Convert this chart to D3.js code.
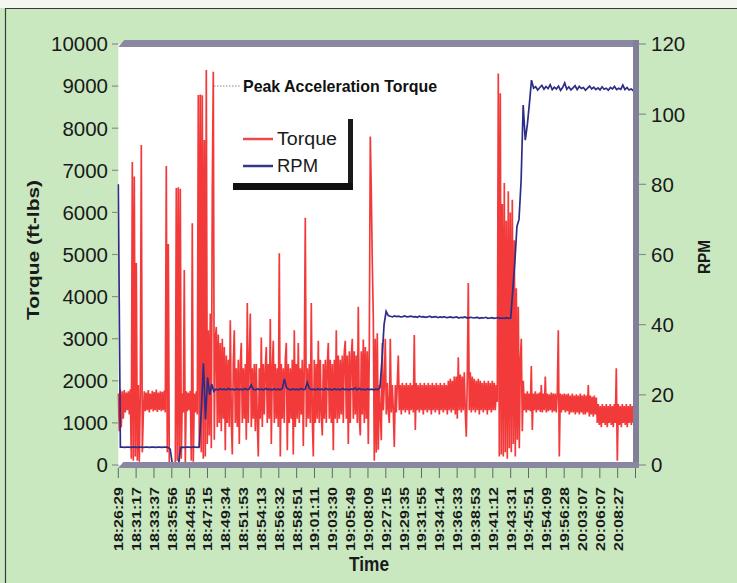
<!DOCTYPE html>
<html><head><meta charset="utf-8">
<script src="https://cdn.jsdelivr.net/npm/d3@7/dist/d3.min.js"></script>
<style>
html,body{margin:0;padding:0;background:#fff;}
svg{display:block;font-family:"Liberation Sans",Arial,Helvetica,sans-serif;}
</style></head><body>
<svg id="c" width="737" height="583"></svg>
<script>
// ---------------- DATA ----------------
const timeLabels = ["18:26:29","18:31:17","18:33:37","18:35:56","18:44:55","18:47:15","18:49:34","18:51:53","18:54:13","18:56:32","18:58:51","19:01:11","19:03:30","19:05:49","19:08:09","19:27:15","19:29:35","19:31:55","19:34:14","19:36:33","19:38:53","19:41:12","19:43:31","19:45:51","19:54:09","19:56:28","20:03:07","20:06:07","20:08:27"];
const torqueTicks = [0,1000,2000,3000,4000,5000,6000,7000,8000,9000,10000];
const rpmTicks = [0,20,40,60,80,100,120];
const seriesNames = ["Torque","RPM"];
const annotationText = "Peak Acceleration Torque";

// Torque (ft-lbs), evenly spaced samples over the whole time axis
const torque = [
 1700,800,1800,900,1750,1100,1780,1250,1720,1300,1750,1200,
 1800,150,7200,100,6850,200,4800,100,1900,80,1700,7600,300,
 1200,1750,1280,1720,1300,1780,1250,1700,1320,1760,1270,1730,1300,1790,1260,1720,1310,1750,1280,1740,1300,1770,1250,
 7100,300,5250,60,20,0,30,0,20,50,6580,100,6600,80,6560,150,
 1700,1250,4630,50,1750,1280,1720,1300,1760,100,5740,80,1700,1250,1750,
 1200,8790,400,8800,300,8780,150,7720,200,9380,500,3200,700,3600,400,6530,9340,600,3000,
 3280,900,3100,1000,2900,800,3000,1100,2800,350,
 2600,1000,2500,900,3440,1100,250,2400,3200,1000,
 2300,900,2500,500,2400,2900,1000,2300,1100,2400,
 600,3850,1000,2500,3600,900,2300,1100,2400,800,
 2400,1000,200,2300,1100,3030,900,2400,1200,2300,
 2800,1000,2400,1100,3470,500,2300,2950,1000,2400,
 1100,2300,900,5030,200,2400,1100,2300,1000,2500,
 2900,350,2400,1000,2300,1100,2500,250,3200,900,
 2400,1100,2900,1000,2300,1200,2500,450,2400,5870,
 900,2300,1100,2400,1000,3850,1100,200,2500,1000,
 2400,1100,2950,1000,2500,1200,700,2400,1100,2500,
 1000,2400,2900,1100,2500,1000,2400,350,2500,1100,
 3200,1000,2600,1100,2500,1200,2600,1000,2700,2950,
 1100,2600,500,2700,1000,2600,3000,1100,2700,1200,
 2600,1000,3760,1100,700,2700,1200,2980,1000,2800,
 1100,2700,500,2800,
 7800,6500,4800,3500,100,
 3000,300,3130,360,1900,1200,590,2900,1300,1900,
 3000,1200,1950,1300,1000,3000,1250,1900,1300,430,
 1900,1250,1950,2600,1300,1900,1200,1950,1300,1900,
 1250,1950,1300,1900,1200,1950,1300,1900,1250,3090,
 830,1950,1300,1900,1250,1950,1300,1900,1200,1950,
 1300,1900,1250,1950,1300,1900,1200,1950,1300,1900,
 1250,1950,1300,1900,1200,1950,1300,1900,1250,1950,
 1300,1900,1200,2000,1300,2050,1250,2000,1300,2100,
 1200,2100,1100,2560,1300,2150,1250,2100,1300,2200,
 1250,670,2100,4320,1300,2200,1250,2100,1300,2050,
 1250,2000,1300,2050,1200,2000,1300,1950,1250,2000,
 1300,1950,1200,2000,1300,1950,1250,2000,1300,1950,
 1300,1900,
 1500,9300,200,8830,250,6200,200,6700,300,5800,150,6500,400,6000,300,6300,500,5340,200,4200,600,3760,400,2500,3000,800,2000,
 1300,1700,1250,1750,1300,1700,1280,2350,830,1700,
 1300,1750,1250,1700,1300,1720,1260,1900,1250,1700,
 1300,2100,1250,1700,1280,1680,1300,1720,1250,1700,
 1280,1700,1250,1700,3200,200,1700,1250,1680,1300,
 1700,1250,1680,1280,1700,1200,1650,1250,1700,1250,
 1650,1200,1680,1250,1650,1200,1700,1250,1650,1200,
 1680,1200,1650,1250,1900,1150,1650,1200,1620,1150,
 1650,1200,1600,
 1000,1450,950,1400,900,1450,1000,1400,950,1450,
 900,1400,1000,1450,950,1400,900,1450,1000,2300,
 100,1450,950,1400,900,1450,1000,1400,950,1450,
 900,1400,1000,1450,950,1400,1000,1450,1000
];

// RPM, evenly spaced samples over the whole time axis
const rpm = [
 80,
 5.1,5.1,5.0,5.1,5.1,5.0,5.1,5.1,5.0,5.1,5.1,5.0,5.1,5.1,5.0,5.1,5.1,5.0,5.1,5.1,5.0,5.1,5.1,5.0,
 4.5,0.3,0,0,0.3,5.0,
 5.1,5.0,5.1,5.1,5.0,5.1,5.1,5.0,
 5.2,16,29,13,25,20,23,21,
 21.6,21.4,21.7,21.5,21.6,21.4,21.8,21.5,21.6,21.4,
 21.7,21.5,21.6,21.4,21.8,21.5,21.6,22.8,21.6,21.4,
 21.7,21.5,21.6,21.4,21.8,21.5,21.6,21.4,21.7,21.5,
 21.6,21.4,21.8,24.5,22.0,21.6,21.4,21.7,21.5,21.6,
 21.4,21.8,21.5,21.6,23.5,21.8,21.5,21.6,21.4,21.7,
 21.5,21.6,21.4,21.8,21.5,21.6,21.4,21.7,21.5,21.6,
 21.4,21.8,21.5,21.6,21.4,21.7,21.5,22.0,21.4,21.8,
 21.5,21.6,21.4,21.7,21.5,21.6,21.4,21.6,21.5,
 22,30,40,43.8,42.6,
 42.4,42.2,42.5,42.3,42.4,42.2,42.3,42.5,42.2,42.3,
 42.4,42.2,42.3,42.1,42.4,42.2,42.3,42.1,42.2,42.4,
 42.1,42.2,42.3,42.0,42.2,42.1,42.3,42.0,42.1,42.2,
 42.0,42.1,42.2,41.9,42.1,42.0,42.2,41.9,42.0,42.1,
 41.9,42.0,42.1,41.8,42.0,41.9,42.1,41.8,41.9,42.0,
 41.8,41.9,42.0,41.8,41.9,41.8,42.0,41.8,41.9,
 50,58,68,70,81,102.6,92.6,97,103,109.7,107.4,
 107.8,106.9,107.6,108.2,107.1,107.9,107.3,108.4,107.0,107.7,
 107.2,108.0,106.8,107.6,108.9,107.1,107.8,106.9,107.5,108.1,
 107.0,107.9,107.3,107.6,106.8,107.4,108.0,107.2,107.7,107.0,
 107.5,106.9,107.8,107.1,107.4,106.8,107.6,107.2,107.9,107.0,
 107.4,107.1,108.3,107.0,107.6,106.9,107.2,106.7,106.5
];

// ---------------- LAYOUT ----------------
const svg = d3.select("#c");
const L = 118.3, R = 635.5, T = 44, B = 465;
const nCat = timeLabels.length;            // 29 labels, 29 intervals
const x = d3.scaleLinear().domain([0, nCat]).range([L, R]);
const yT = d3.scaleLinear().domain([0, 10000]).range([B, T]);
const yR = d3.scaleLinear().domain([0, 120]).range([B, T]);

// background
svg.append("rect").attr("x",0).attr("y",0).attr("width",737).attr("height",583).attr("fill","#c9e8c0");
svg.append("rect").attr("x",0).attr("y",0).attr("width",737).attr("height",8).attr("fill","#f3f6f1");
svg.append("line").attr("x1",5).attr("x2",737).attr("y1",8.5).attr("y2",8.5).attr("stroke","#3a3a3a").attr("stroke-width",1.2);
svg.append("line").attr("x1",5.5).attr("x2",5.5).attr("y1",8).attr("y2",583).attr("stroke","#3a3a3a").attr("stroke-width",1.2);

// plot area
svg.append("rect").attr("x",L).attr("y",T).attr("width",633-L).attr("height",B-T).attr("fill","#ffffff");

svg.append("clipPath").attr("id","clip").append("rect")
  .attr("x",L-1).attr("y",T).attr("width",633-L+1).attr("height",B-T+1);

const g = svg.append("g").attr("clip-path","url(#clip)");

const tx = i => x(i * nCat / (torque.length - 1) * (517/517.2));
const rx = i => x(i * nCat / (rpm.length - 1) * (517/517.2));

g.append("path").datum(torque)
  .attr("d", d3.line().x((d,i)=>tx(i)).y(d=>yT(d)))
  .attr("fill","none").attr("stroke","#f23a3a").attr("stroke-width",1.7).attr("stroke-linejoin","bevel");

g.append("path").datum(rpm)
  .attr("d", d3.line().x((d,i)=>rx(i)).y(d=>yR(d)))
  .attr("fill","none").attr("stroke","#2e2d86").attr("stroke-width",1.7);

// frame bars (3D-like edges)
const barCol = "#8a87a2";
svg.append("path").attr("d",`M${L},47 L${L+6},40 L639,40 L639,47 Z`).attr("fill",barCol);
svg.append("rect").attr("x",633).attr("y",40).attr("width",6).attr("height",428).attr("fill","#827f9a");
svg.append("path").attr("d",`M${L},468 L${L+5},462 L639,462 L639,468 Z`).attr("fill",barCol);

// left axis
const axL = svg.append("g");
torqueTicks.forEach(v=>{
  axL.append("line").attr("x1",112).attr("x2",L).attr("y1",yT(v)).attr("y2",yT(v)).attr("stroke","#8c8c8c").attr("stroke-width",1.2);
  axL.append("text").attr("x",108).attr("y",yT(v)).attr("dy","0.36em")
    .attr("text-anchor","end").attr("font-size",20.5).attr("fill","#1a1a1a").text(v);
});
// right axis
const axR = svg.append("g");
rpmTicks.forEach(v=>{
  axR.append("line").attr("x1",639).attr("x2",646).attr("y1",yR(v)).attr("y2",yR(v)).attr("stroke","#8c8c8c").attr("stroke-width",1.2);
  axR.append("text").attr("x",651).attr("y",yR(v)).attr("dy","0.36em")
    .attr("text-anchor","start").attr("font-size",20.5).attr("fill","#1a1a1a").text(v);
});
// bottom axis
const axB = svg.append("g");
d3.range(nCat+1).forEach(i=>{
  axB.append("line").attr("x1",x(i)).attr("x2",x(i)).attr("y1",468).attr("y2",478).attr("stroke","#666").attr("stroke-width",1);
});
timeLabels.forEach((t,i)=>{
  axB.append("text").attr("transform",`translate(${x(i)},487) rotate(-90)`)
    .attr("dy","0.36em").attr("text-anchor","end").attr("font-size",13.5).attr("font-weight","bold")
    .attr("textLength",64).attr("lengthAdjust","spacingAndGlyphs").attr("fill","#1a1a1a").text(t);
});

// axis titles
svg.append("text").attr("x",369).attr("y",571).attr("text-anchor","middle")
  .attr("font-size",21).attr("font-weight","bold").attr("textLength",40).attr("lengthAdjust","spacingAndGlyphs").attr("fill","#1a1a1a").text("Time");
svg.append("text").attr("transform","translate(33,250) rotate(-90)").attr("dy","0.36em").attr("text-anchor","middle")
  .attr("font-size",17).attr("font-weight","bold").attr("textLength",140).attr("lengthAdjust","spacingAndGlyphs").attr("fill","#1a1a1a").text("Torque (ft-lbs)");
svg.append("text").attr("transform","translate(704,257) rotate(-90)").attr("dy","0.36em").attr("text-anchor","middle")
  .attr("font-size",16).attr("font-weight","bold").attr("textLength",34).attr("lengthAdjust","spacingAndGlyphs").attr("fill","#1a1a1a").text("RPM");

// annotation
svg.append("line").attr("x1",214).attr("x2",241).attr("y1",86).attr("y2",86).attr("stroke","#888").attr("stroke-width",1).attr("stroke-dasharray","1.5,1.5");
svg.append("text").attr("x",243).attr("y",86).attr("dy","0.36em").attr("font-size",17).attr("font-weight","bold")
  .attr("font-family","'Liberation Sans Narrow','Liberation Sans',Arial,sans-serif")
  .attr("textLength",194).attr("lengthAdjust","spacingAndGlyphs").attr("fill","#111").text(annotationText);

// legend
const lg = svg.append("g");
lg.append("rect").attr("x",348).attr("y",119).attr("width",5).attr("height",71).attr("fill","#1b1b1b");
lg.append("rect").attr("x",233).attr("y",183).attr("width",120).attr("height",7).attr("fill","#111");
const legColors = ["#f04848","#35358c"];
seriesNames.forEach((s,i)=>{
  const yy = 139 + i*27;
  lg.append("line").attr("x1",243).attr("x2",273).attr("y1",yy).attr("y2",yy).attr("stroke",legColors[i]).attr("stroke-width",2.5);
  lg.append("text").attr("x",277).attr("y",yy).attr("dy","0.36em").attr("font-size",18)
    .attr("textLength", i===0?60:41).attr("lengthAdjust","spacingAndGlyphs").attr("fill","#1a1a1a").text(s);
});
</script>
</body></html>
